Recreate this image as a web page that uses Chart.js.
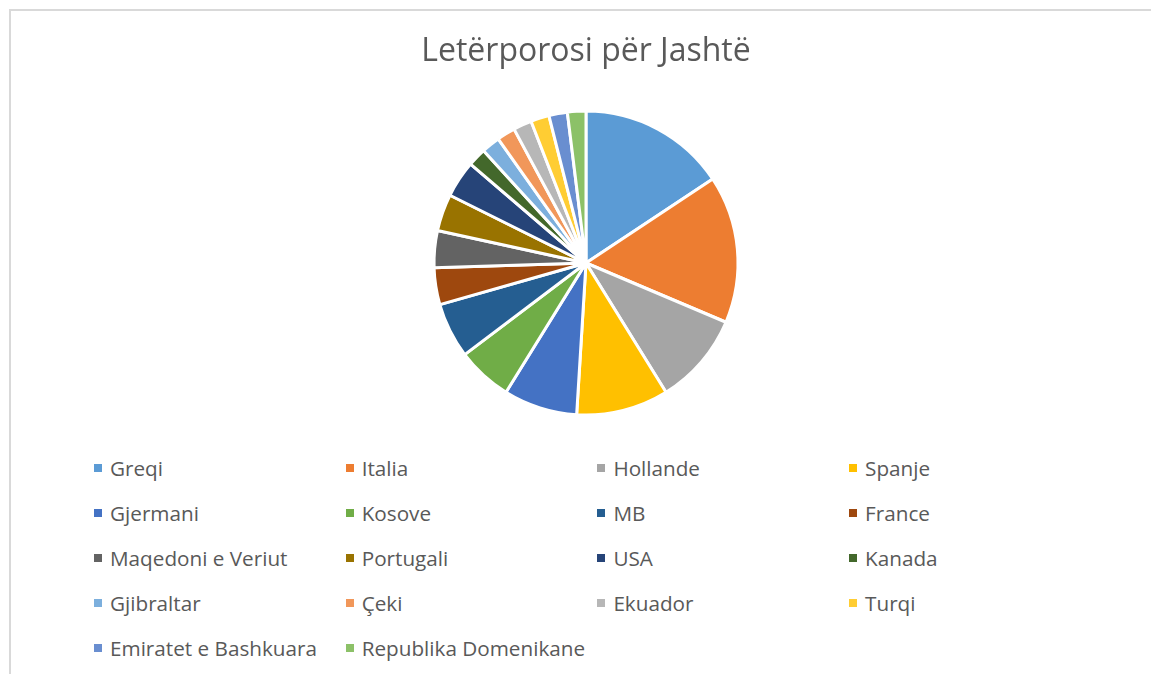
<!DOCTYPE html>
<html>
<head>
<meta charset="utf-8">
<script src="https://cdn.jsdelivr.net/npm/chart.js@4"></script>
<style>
  html, body { margin: 0; padding: 0; background: #fff; }
  body { width: 1151px; height: 674px; overflow: hidden; position: relative; font-family: "Open Sans", sans-serif; }
  .frame { position: absolute; left: 9px; top: 9px; width: 1150px; height: 700px; border-left: 2px solid #d9d9d9; border-top: 2px solid #d9d9d9; }
  #wrap { position: absolute; left: 11px; top: 11px; width: 1130px; height: 440px; }
  #legend { position: absolute; left: 94px; top: 455px; display: grid; grid-template-columns: repeat(4, 251.7px); grid-auto-rows: 45px; }
  #legend div { display: flex; align-items: center; height: 26px; font-size: 20.7px; color: #595959; white-space: nowrap; }
  #legend span.box { display: inline-block; width: 8px; height: 8px; margin-right: 8px; }
</style>
</head>
<body>
<div class="frame"></div>
<div id="wrap"><canvas id="pie"></canvas></div>
<div id="legend"></div>
<script>
// Të dhënat
const countries = ["Greqi", "Italia", "Hollande", "Spanje", "Gjermani", "Kosove", "MB", "France",
  "Maqedoni e Veriut", "Portugali", "USA", "Kanada", "Gjibraltar", "Çeki", "Ekuador", "Turqi",
  "Emiratet e Bashkuara", "Republika Domenikane"];
const letters = [8, 8, 5, 5, 4, 3, 3, 2, 2, 2, 2, 1, 1, 1, 1, 1, 1, 1];
const colors = ["#5B9BD5", "#ED7D31", "#A5A5A5", "#FFC000", "#4472C4", "#70AD47", "#255E91", "#9E480E",
  "#636363", "#997300", "#264478", "#43682B", "#7CAFDD", "#F1975A", "#B7B7B7", "#FFCD33",
  "#698ED0", "#8CC168"];
const title = "Letërporosi për Jashtë";

document.addEventListener("DOMContentLoaded", () => {
  const ctx = document.getElementById("pie").getContext("2d");
  new Chart(ctx, {
    type: "pie",
    data: {
      labels: countries,
      datasets: [{ data: letters, backgroundColor: colors, borderColor: "#fff", borderWidth: 3 }]
    },
    options: {
      responsive: true,
      maintainAspectRatio: false,
      animation: false,
      radius: 152,
      layout: { padding: { left: 20, right: 0, top: 0, bottom: 2 } },
      plugins: {
        legend: { display: false },
        tooltip: { enabled: false },
        title: {
          display: true,
          text: title,
          color: "#595959",
          font: { family: "Open Sans", size: 32, weight: "normal" },
          padding: { top: 22, bottom: 5.6 }
        }
      }
    }
  });

  // Legjenda në katër kolona
  const legend = document.getElementById("legend");
  countries.forEach((name, i) => {
    const item = document.createElement("div");
    const box = document.createElement("span");
    box.className = "box";
    box.style.background = colors[i];
    item.appendChild(box);
    item.appendChild(document.createTextNode(name));
    legend.appendChild(item);
  });
});
</script>
</body>
</html>
